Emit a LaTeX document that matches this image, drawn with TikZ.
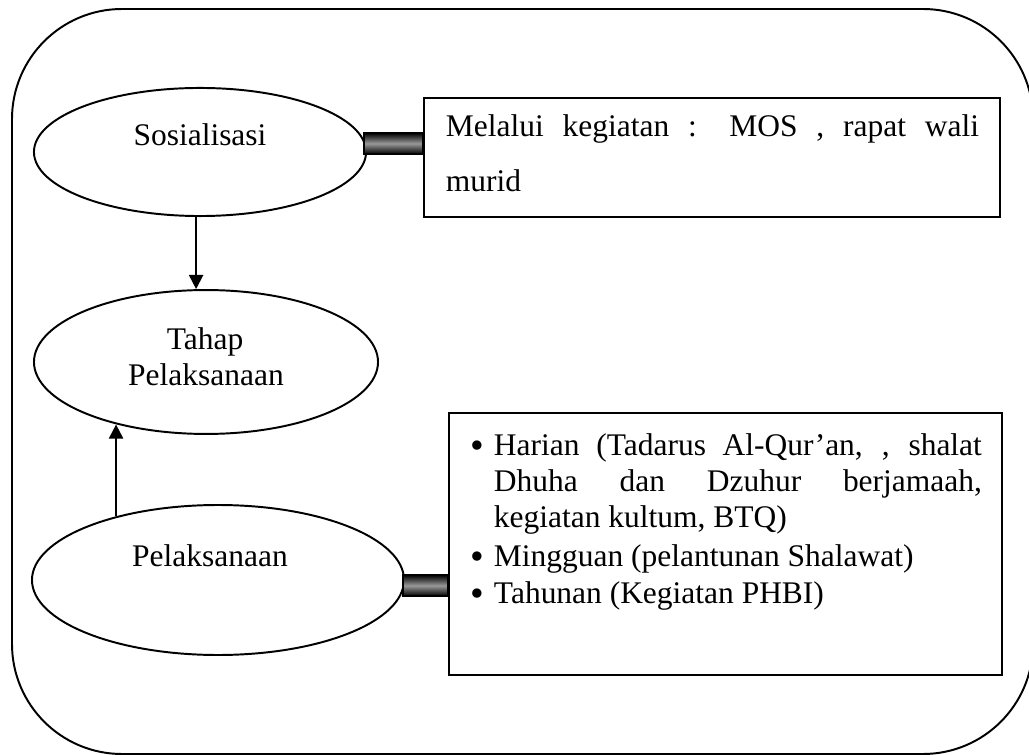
\documentclass[tikz,border=0pt]{standalone}
\usepackage{fontspec}
\setmainfont{Liberation Serif}
\usetikzlibrary{arrows.meta,shapes.geometric}
\begin{document}
\begin{tikzpicture}[x=0.4607pt,y=-0.4607pt,
  line width=0.9pt,
  oval/.style={ellipse,draw,inner sep=0pt},
  boxnode/.style={rectangle,draw,inner sep=0pt},
  txt/.style={font=\fontsize{14.5}{17}\selectfont,inner sep=0pt},
  bul/.style={font=\fontsize{18}{18}\selectfont,inner sep=0pt,anchor=base},
  arr/.style={-{Triangle[width=6.5pt,length=6.5pt]}},
  bar/.style={draw=black,line width=0.9pt,top color=black,bottom color=black,middle color=black!40}]
\useasboundingbox (0,0) rectangle (1029,755);
\draw[rounded corners=50.7pt] (12,9) rectangle (1033,754);

% boxes
\node[boxnode,minimum width=265.4pt,minimum height=54.8pt] (b1) at (712,157.5) {};
\node[boxnode,minimum width=254.8pt,minimum height=120.7pt] (b2) at (725.5,544) {};

% ellipses
\node[oval,minimum width=153pt,minimum height=59pt] (sos) at (200,152) {};
\node[oval,minimum width=158.5pt,minimum height=66.3pt] (tahap) at (206,362) {};
\node[oval,minimum width=171.4pt,minimum height=69.1pt] (pel) at (218,580) {};

% bars
\draw[bar] ([xshift=-1.4pt,yshift=8.8pt]sos.east) rectangle ([yshift=1.6pt]b1.west);
\draw[bar] ([xshift=-1pt,yshift=2.3pt]pel.east) rectangle ([yshift=-24pt]b2.west);

% arrows
\draw[arr] ([xshift=-1.8pt]sos.south) -- ([xshift=-1.8pt]sos.south |- tahap.north);
\draw[arr] (pel.148) -- (pel.148 |- tahap.215);

% ellipse texts
\node[txt,anchor=base] (sost) at (200,146) {Sosialisasi};
\node[txt,anchor=base] (taht1) at (205,350) {Tahap};
\node[txt,anchor=base] (taht2) at (206,386) {Pelaksanaan};
\node[txt,anchor=base] (pelt) at (210,566) {Pelaksanaan};

% box 1 text
\node[txt,anchor=base west] (b1a) at (445,137) {\makebox[245.6pt][s]{Melalui kegiatan : MOS , rapat wali}};
\node[txt,anchor=base west] (b1b) at (445,192) {murid};

% box 2 text
\node[bul] (bu1) at (477,459) {\textbullet};
\node[txt,anchor=base west] (b2a) at (493,456) {\makebox[224.8pt][s]{Harian (Tadarus Al-Qur’an, , shalat}};
\node[txt,anchor=base west] (b2b) at (493,492) {\makebox[224.8pt][s]{Dhuha dan Dzuhur berjamaah,}};
\node[txt,anchor=base west] (b2c) at (493,528) {kegiatan kultum, BTQ)};
\node[bul] (bu2) at (477,569) {\textbullet};
\node[txt,anchor=base west] (b2d) at (493,566) {Mingguan (pelantunan Shalawat)};
\node[bul] (bu3) at (477,606) {\textbullet};
\node[txt,anchor=base west] (b2e) at (493,603) {Tahunan (Kegiatan PHBI)};
\end{tikzpicture}
\end{document}
